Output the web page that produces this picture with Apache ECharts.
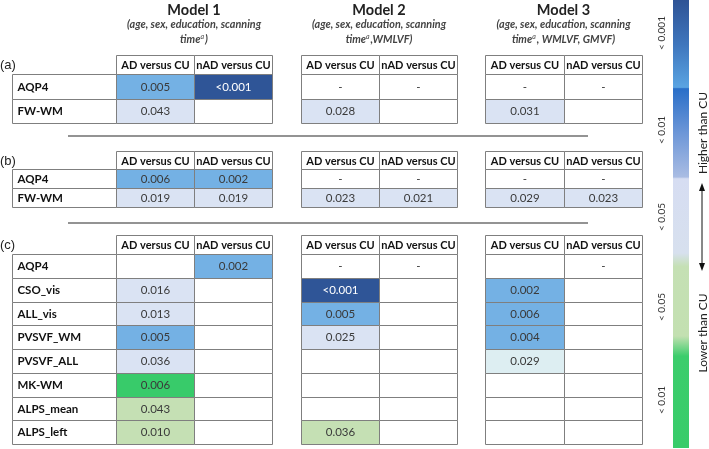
<!DOCTYPE html>
<html><head><meta charset="utf-8">
<script src="https://cdn.jsdelivr.net/npm/echarts@6/dist/echarts.min.js"></script>
<style>html,body{margin:0;padding:0;background:#fff}#c{width:709px;height:449px}</style>
</head><body><div id="c"></div>
<script>
// ---------- data ----------
const columns = ['AD versus CU', 'nAD versus CU'];
const rowsA = ['AQP4', 'FW-WM'];
const rowsB = ['AQP4', 'FW-WM'];
const rowsC = ['AQP4', 'CSO_vis', 'ALL_vis', 'PVSVF_WM', 'PVSVF_ALL', 'MK-WM', 'ALPS_mean', 'ALPS_left'];
const models = ['Model 1', 'Model 2', 'Model 3'];
const covariatesLine1 = ['(age, sex, education, scanning', '(age, sex, education, scanning', '(age, sex, education, scanning'];
const covariatesLine2 = [')', ',WMLVF)', ', WMLVF, GMVF)'];
const panelLabels = ['(a)', '(b)', '(c)'];
const legendLabels = ['< 0.001', '< 0.01', '< 0.05', '< 0.05', '< 0.01'];

// panel (a)
const A_M1_AD = ['0.005', '0.043'];     const A_M1_AD_sig = ['h01', 'h05'];
const A_M1_nAD = ['<0.001', ''];        const A_M1_nAD_sig = ['h001', ''];
const A_M2_AD = ['-', '0.028'];         const A_M2_AD_sig = ['', 'h05'];
const A_M2_nAD = ['-', ''];             const A_M2_nAD_sig = ['', ''];
const A_M3_AD = ['-', '0.031'];         const A_M3_AD_sig = ['', 'h05'];
const A_M3_nAD = ['-', ''];             const A_M3_nAD_sig = ['', ''];
// panel (b)
const B_M1_AD = ['0.006', '0.019'];     const B_M1_AD_sig = ['h01', 'h05'];
const B_M1_nAD = ['0.002', '0.019'];    const B_M1_nAD_sig = ['h01', 'h05'];
const B_M2_AD = ['-', '0.023'];         const B_M2_AD_sig = ['', 'h05'];
const B_M2_nAD = ['-', '0.021'];        const B_M2_nAD_sig = ['', 'h05'];
const B_M3_AD = ['-', '0.029'];         const B_M3_AD_sig = ['', 'h05'];
const B_M3_nAD = ['-', '0.023'];        const B_M3_nAD_sig = ['', 'h05'];
// panel (c)
const C_M1_AD = ['', '0.016', '0.013', '0.005', '0.036', '0.006', '0.043', '0.010'];
const C_M1_AD_sig = ['', 'h05', 'h05', 'h01', 'h05', 'l01', 'l05', 'l05'];
const C_M1_nAD = ['0.002', '', '', '', '', '', '', ''];
const C_M1_nAD_sig = ['h01', '', '', '', '', '', '', ''];
const C_M2_AD = ['-', '<0.001', '0.005', '0.025', '', '', '', '0.036'];
const C_M2_AD_sig = ['', 'h001', 'h01', 'h05', '', '', '', 'l05'];
const C_M2_nAD = ['-', '', '', '', '', '', '', ''];
const C_M2_nAD_sig = ['', '', '', '', '', '', '', ''];
const C_M3_AD = ['', '0.002', '0.006', '0.004', '0.029', '', '', ''];
const C_M3_AD_sig = ['', 'h01', 'h01', 'h01', 'h05b', '', '', ''];
const C_M3_nAD = ['-', '', '', '', '', '', '', ''];
const C_M3_nAD_sig = ['', '', '', '', '', '', '', ''];

// ---------- styling / layout ----------
const sigColors = { h001: '#2f5597', h01: '#74b1e4', h05: '#dae3f3', h05b: '#ddeef2', l05: '#c5e0b4', l01: '#38cb6a', '': '#ffffff' };
const BORDER = '#7f7f7f';
const FONT = 'Lato, "Open Sans", sans-serif';

const panels = [
  { rows: rowsA, head: [55, 74], body: [74, 123],
    data: [[A_M1_AD, A_M1_nAD, A_M1_AD_sig, A_M1_nAD_sig], [A_M2_AD, A_M2_nAD, A_M2_AD_sig, A_M2_nAD_sig], [A_M3_AD, A_M3_nAD, A_M3_AD_sig, A_M3_nAD_sig]] },
  { rows: rowsB, head: [151, 169], body: [169, 207],
    data: [[B_M1_AD, B_M1_nAD, B_M1_AD_sig, B_M1_nAD_sig], [B_M2_AD, B_M2_nAD, B_M2_AD_sig, B_M2_nAD_sig], [B_M3_AD, B_M3_nAD, B_M3_AD_sig, B_M3_nAD_sig]] },
  { rows: rowsC, head: [235, 254], body: [254, 444],
    data: [[C_M1_AD, C_M1_nAD, C_M1_AD_sig, C_M1_nAD_sig], [C_M2_AD, C_M2_nAD, C_M2_AD_sig, C_M2_nAD_sig], [C_M3_AD, C_M3_nAD, C_M3_AD_sig, C_M3_nAD_sig]] }
];
const modelX = [[116, 272], [301, 457], [485, 642]];
const labelX = [12, 116];

const grids = [], xAxes = [], yAxes = [], series = [];

function cellRect(api, i, j) {
  const p = api.coord([i, j]);
  const s = api.size([1, 1]);
  const x0 = Math.round(p[0] - s[0] / 2) + 0.5, x1 = Math.round(p[0] + s[0] / 2) + 0.5;
  const y0 = Math.round(p[1] - s[1] / 2) + 0.5, y1 = Math.round(p[1] + s[1] / 2) + 0.5;
  return { x0, x1, y0, y1, cx: (x0 + x1) / 2, cy: (y0 + y1) / 2 };
}

function addGrid(left, right, top, bottom, xData, yData) {
  const idx = grids.length;
  grids.push({ left: left, top: top, width: right - left, height: bottom - top, containLabel: false });
  xAxes.push({ type: 'category', data: xData, gridIndex: idx, show: false });
  yAxes.push({ type: 'category', data: yData, gridIndex: idx, inverse: true, show: false });
  return idx;
}

function addCells(gridIdx, cells, kind) {
  series.push({
    type: 'custom', xAxisIndex: gridIdx, yAxisIndex: gridIdx, silent: true,
    data: cells.map(c => [c.i, c.j]),
    renderItem: function (params, api) {
      const c = cells[params.dataIndex];
      const r = cellRect(api, api.value(0), api.value(1));
      const fill = kind === 'value' ? sigColors[c.sig] : '#ffffff';
      let text;
      if (kind === 'label') {
        text = { type: 'text', style: { text: c.text, x: r.x0 + 5, y: r.cy, align: 'left', verticalAlign: 'middle', fontFamily: FONT, fontWeight: 'bold', fontSize: 11.5, fill: '#111' } };
      } else if (kind === 'head') {
        text = { type: 'text', style: { text: c.text, x: r.cx, y: r.cy + 0.5, align: 'center', verticalAlign: 'middle', fontFamily: FONT, fontWeight: 'bold', fontSize: 11, fill: '#111' } };
      } else {
        text = { type: 'text', style: { text: c.text, x: r.cx, y: r.cy, align: 'center', verticalAlign: 'middle', fontFamily: FONT, fontSize: 11.5, fill: c.sig === 'h001' ? '#ffffff' : '#3a3a3a' } };
      }
      return { type: 'group', children: [
        { type: 'rect', shape: { x: r.x0, y: r.y0, width: r.x1 - r.x0, height: r.y1 - r.y0 }, style: { fill: fill, stroke: BORDER, lineWidth: 1 } },
        text
      ] };
    }
  });
}

panels.forEach(function (pn) {
  const lg = addGrid(labelX[0], labelX[1], pn.body[0], pn.body[1], ['label'], pn.rows);
  addCells(lg, pn.rows.map((r, j) => ({ i: 0, j: j, text: r })), 'label');
  pn.data.forEach(function (md, m) {
    const hg = addGrid(modelX[m][0], modelX[m][1], pn.head[0], pn.head[1], columns, ['header']);
    addCells(hg, columns.map((c, i) => ({ i: i, j: 0, text: c })), 'head');
    const bg = addGrid(modelX[m][0], modelX[m][1], pn.body[0], pn.body[1], columns, pn.rows);
    const cells = [];
    pn.rows.forEach(function (r, j) {
      cells.push({ i: 0, j: j, text: md[0][j], sig: md[2][j] });
      cells.push({ i: 1, j: j, text: md[1][j], sig: md[3][j] });
    });
    addCells(bg, cells, 'value');
  });
});

// ---------- decorations ----------
const graphic = [];
models.forEach(function (name, m) {
  const cx = (modelX[m][0] + modelX[m][1]) / 2;
  graphic.push({ type: 'text', x: cx, y: 10, style: { text: name, align: 'center', verticalAlign: 'middle', fontFamily: FONT, fontWeight: 'bold', fontSize: 14.5, fill: '#222' } });
  graphic.push({ type: 'text', x: cx, y: 25, style: { text: covariatesLine1[m], align: 'center', verticalAlign: 'middle', fontFamily: FONT, fontStyle: 'italic', fontWeight: 'bold', fontSize: 10.8, fill: '#444' } });
  graphic.push({ type: 'text', x: cx, y: 40, style: { text: 'time{sup|a}' + covariatesLine2[m], align: 'center', verticalAlign: 'middle', fontFamily: FONT, fontStyle: 'italic', fontWeight: 'bold', fontSize: 10.8, fill: '#444',
    rich: { sup: { fontSize: 7, fontFamily: FONT, fontStyle: 'italic', fill: '#444', padding: [0, 1, 6, 0] } } } });
});
panels.forEach(function (pn, p) {
  graphic.push({ type: 'text', x: 0, y: (pn.head[0] + pn.head[1]) / 2 + 1, style: { text: panelLabels[p], align: 'left', verticalAlign: 'middle', fontFamily: '"Liberation Sans", Arial, sans-serif', fontSize: 13, fill: '#222' } });
});
[136, 223].forEach(function (y) {
  graphic.push({ type: 'line', shape: { x1: 68, y1: y, x2: 588, y2: y }, style: { stroke: '#6f6f6f', lineWidth: 1.5 } });
});
graphic.push({ type: 'rect', shape: { x: 673, y: 0, width: 16, height: 448 }, style: { fill: { type: 'linear', x: 0, y: 0, x2: 0, y2: 1, colorStops: [
  { offset: 0, color: '#2e5395' }, { offset: 0.1, color: '#3f76bd' }, { offset: 0.195, color: '#5aa4e2' },
  { offset: 0.198, color: '#2a6fc8' }, { offset: 0.3, color: '#6f98d8' }, { offset: 0.395, color: '#a9bce3' },
  { offset: 0.399, color: '#d6ddf2' }, { offset: 0.565, color: '#d7e0ee' }, { offset: 0.595, color: '#c5e0b4' },
  { offset: 0.75, color: '#c3e0b1' }, { offset: 0.795, color: '#3ccd6c' }, { offset: 1, color: '#38cc6a' }
] } } });
const legendY = [33, 130, 217, 307, 400];
legendLabels.forEach(function (t, k) {
  graphic.push({ type: 'text', x: 662, y: legendY[k], rotation: Math.PI / 2, style: { text: t, align: 'center', verticalAlign: 'middle', fontFamily: FONT, fontSize: 10, fill: '#333' } });
});
graphic.push({ type: 'text', x: 703, y: 133, rotation: Math.PI / 2, style: { text: 'Higher than CU', align: 'center', verticalAlign: 'middle', fontFamily: FONT, fontSize: 12, fill: '#222' } });
graphic.push({ type: 'text', x: 703, y: 333, rotation: Math.PI / 2, style: { text: 'Lower than CU', align: 'center', verticalAlign: 'middle', fontFamily: FONT, fontSize: 12, fill: '#222' } });
graphic.push({ type: 'line', shape: { x1: 702, y1: 188, x2: 702, y2: 266 }, style: { stroke: '#111', lineWidth: 1 } });
graphic.push({ type: 'polygon', shape: { points: [[702, 183], [699, 191], [705, 191]] }, style: { fill: '#111' } });
graphic.push({ type: 'polygon', shape: { points: [[702, 271], [699, 263], [705, 263]] }, style: { fill: '#111' } });

const chart = echarts.init(document.getElementById('c'), null, { renderer: 'canvas' });
chart.setOption({
  animation: false,
  backgroundColor: '#ffffff',
  grid: grids, xAxis: xAxes, yAxis: yAxes, series: series,
  graphic: graphic
});
</script></body></html>
